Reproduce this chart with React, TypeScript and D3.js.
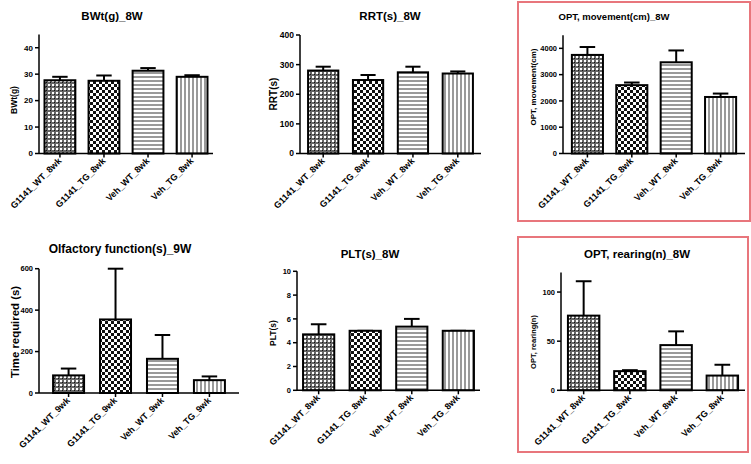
import React from "react";
import * as d3 from "d3";

const categories8 = ["G1141_WT_8wk", "G1141_TG_8wk", "Veh_WT_8wk", "Veh_TG_8wk"];
const categories9 = ["G1141_WT_9wk", "G1141_TG_9wk", "Veh_WT_9wk", "Veh_TG_9wk"];

const bwtMean = [27.7, 27.5, 31.3, 29.0];
const bwtErr = [1.3, 2.0, 1.0, 0.6];
const rrtMean = [280, 248, 274, 270];
const rrtErr = [13, 17, 19, 7];
const optMoveMean = [3750, 2600, 3470, 2150];
const optMoveErr = [300, 100, 450, 130];
const olfMean = [85, 355, 165, 62];
const olfErr = [33, 245, 115, 18];
const pltMean = [4.7, 5.0, 5.35, 5.0];
const pltErr = [0.85, 0, 0.65, 0];
const rearMean = [76, 19.5, 46, 15];
const rearErr = [35, 1, 14, 11];

const bwtTicks = [0, 10, 20, 30, 40];
const rrtTicks = [0, 100, 200, 300, 400];
const optMoveTicks = [0, 1000, 2000, 3000, 4000];
const olfTicks = [0, 200, 400, 600];
const pltTicks = [0, 2, 4, 6, 8, 10];
const rearTicks = [0, 50, 100];

const FONT = "'Liberation Sans', Arial, Helvetica, sans-serif";
const patterns = ["url(#pWT)", "url(#pTG)", "url(#pH)", "url(#pV)"];

type PanelSpec = {
  title: string;
  ylabel: string;
  cats: string[];
  mean: number[];
  err: number[];
  ticks: number[];
  ymax: number;
  x0: number;
  x1: number;
  y0: number;
  y1: number;
  pi: number;
  po: number;
  titleX: number;
  titleY: number;
  titleSize: number;
  ylabX: number;
  ylabY: number;
  ylabSize: number;
  tickSize: number;
  frame?: [number, number, number, number];
};

const panels: PanelSpec[] = [
  { title: "BWt(g)_8W", ylabel: "BWt(g)", cats: categories8, mean: bwtMean, err: bwtErr, ticks: bwtTicks, ymax: 45,
    x0: 39, x1: 213, y0: 153.5, y1: 34.5, pi: 0.3, po: 0.125, titleX: 112, titleY: 20, titleSize: 11.5,
    ylabX: 17, ylabY: 100, ylabSize: 8.5, tickSize: 8 },
  { title: "RRT(s)_8W", ylabel: "RRT(s)", cats: categories8, mean: rrtMean, err: rrtErr, ticks: rrtTicks, ymax: 400,
    x0: 300, x1: 481, y0: 153.5, y1: 35, pi: 0.326, po: 0.18, titleX: 390, titleY: 20, titleSize: 11.5,
    ylabX: 276.5, ylabY: 94, ylabSize: 10, tickSize: 8.5 },
  { title: "OPT, movement(cm)_8W", ylabel: "OPT, movement(cm)", cats: categories8, mean: optMoveMean, err: optMoveErr, ticks: optMoveTicks, ymax: 4500,
    x0: 563, x1: 745, y0: 153.5, y1: 35.2, pi: 0.3, po: 0.2, titleX: 614, titleY: 20, titleSize: 9.5,
    ylabX: 536, ylabY: 87, ylabSize: 8, tickSize: 7.5, frame: [518, 2, 750, 221] },
  { title: "Olfactory function(s)_9W", ylabel: "Time required (s)", cats: categories9, mean: olfMean, err: olfErr, ticks: olfTicks, ymax: 600,
    x0: 39, x1: 239, y0: 393, y1: 268.7, pi: 0.34, po: 0.3, titleX: 120, titleY: 253, titleSize: 12,
    ylabX: 19, ylabY: 332, ylabSize: 11.4, tickSize: 7.5 },
  { title: "PLT(s)_8W", ylabel: "PLT(s)", cats: categories8, mean: pltMean, err: pltErr, ticks: pltTicks, ymax: 10,
    x0: 297, x1: 480, y0: 390.3, y1: 271.3, pi: 0.33, po: 0.13, titleX: 370, titleY: 258, titleSize: 11.5,
    ylabX: 276, ylabY: 333, ylabSize: 8.5, tickSize: 7.5 },
  { title: "OPT, rearing(n)_8W", ylabel: "OPT, rearing(n)", cats: categories8, mean: rearMean, err: rearErr, ticks: rearTicks, ymax: 120,
    x0: 561, x1: 745, y0: 390.3, y1: 272.4, pi: 0.32, po: 0.15, titleX: 637, titleY: 258, titleSize: 11.5,
    ylabX: 535.5, ylabY: 342, ylabSize: 7.5, tickSize: 7.5, frame: [518, 237, 748, 452] },
];

function Panel({ p }: { p: PanelSpec }) {
  const x = d3.scaleBand<string>().domain(p.cats).range([p.x0, p.x1]).paddingInner(p.pi).paddingOuter(p.po);
  const y = d3.scaleLinear().domain([0, p.ymax]).range([p.y0, p.y1]);
  const bw = x.bandwidth();
  return (
    <g>
      {p.frame && (
        <rect x={p.frame[0]} y={p.frame[1]} width={p.frame[2] - p.frame[0]} height={p.frame[3] - p.frame[1]}
          fill="none" stroke="#e8767c" strokeWidth={2} />
      )}
      <text x={p.titleX} y={p.titleY} textAnchor="middle" fontFamily={FONT} fontWeight="bold" fontSize={p.titleSize}>{p.title}</text>
      <text transform={`translate(${p.ylabX},${p.ylabY}) rotate(-90)`} textAnchor="middle" fontFamily={FONT} fontWeight="bold" fontSize={p.ylabSize}>{p.ylabel}</text>
      {p.cats.map((c, i) => {
        const bx = x(c)!;
        const cx = bx + bw / 2;
        const top = y(p.mean[i]);
        const et = y(p.mean[i] + p.err[i]);
        return (
          <g key={c}>
            <line x1={cx} x2={cx} y1={top} y2={et} stroke="#000" strokeWidth={2} />
            <line x1={cx - bw / 4} x2={cx + bw / 4} y1={et} y2={et} stroke="#000" strokeWidth={2} />
            <rect x={bx} y={top} width={bw} height={p.y0 - top} fill={patterns[i]} stroke="#000" strokeWidth={2} />
          </g>
        );
      })}
      <line x1={p.x0} x2={p.x0} y1={p.y0} y2={p.y1} stroke="#000" strokeWidth={1.5} />
      <line x1={p.x0} x2={p.x1} y1={p.y0} y2={p.y0} stroke="#000" strokeWidth={1.5} />
      {p.ticks.map((t) => (
        <g key={t}>
          <line x1={p.x0 - 4} x2={p.x0} y1={y(t)} y2={y(t)} stroke="#000" strokeWidth={1.5} />
          <text x={p.x0 - 6} y={y(t)} dy="0.35em" textAnchor="end" fontFamily={FONT} fontWeight="bold" fontSize={p.tickSize}>{t}</text>
        </g>
      ))}
      {p.cats.map((c) => {
        const cx = x(c)! + bw / 2;
        return (
          <g key={"x" + c}>
            <line x1={cx} x2={cx} y1={p.y0} y2={p.y0 + 4} stroke="#000" strokeWidth={1.5} />
            <text transform={`translate(${cx + 2},${p.y0 + 8}) rotate(-45)`} textAnchor="end" fontFamily={FONT} fontWeight="bold" fontSize={9}>{c}</text>
          </g>
        );
      })}
    </g>
  );
}

export default function App() {
  return (
    <svg width={751} height={464} style={{ position: "absolute", left: 0, top: 0, background: "#fff" }}>
      <defs>
        <pattern id="pWT" width={4} height={4} patternUnits="userSpaceOnUse">
          <rect width={4} height={4} fill="#666" />
          <rect x={0} y={0} width={2} height={2} fill="#fff" />
          <rect x={2} y={2} width={1} height={1} fill="#111" />
        </pattern>
        <pattern id="pTG" width={6} height={6} patternUnits="userSpaceOnUse">
          <rect width={6} height={6} fill="#fff" />
          <rect x={0} y={0} width={3} height={3} fill="#111" />
          <rect x={3} y={3} width={3} height={3} fill="#111" />
        </pattern>
        <pattern id="pH" width={4} height={4} patternUnits="userSpaceOnUse">
          <rect width={4} height={4} fill="#fff" />
          <rect x={0} y={0} width={4} height={2} fill="#9a9a9a" />
        </pattern>
        <pattern id="pV" width={4} height={4} patternUnits="userSpaceOnUse">
          <rect width={4} height={4} fill="#fff" />
          <rect x={0} y={0} width={2} height={4} fill="#9a9a9a" />
        </pattern>
      </defs>
      {panels.map((p) => (
        <Panel key={p.title} p={p} />
      ))}
    </svg>
  );
}
